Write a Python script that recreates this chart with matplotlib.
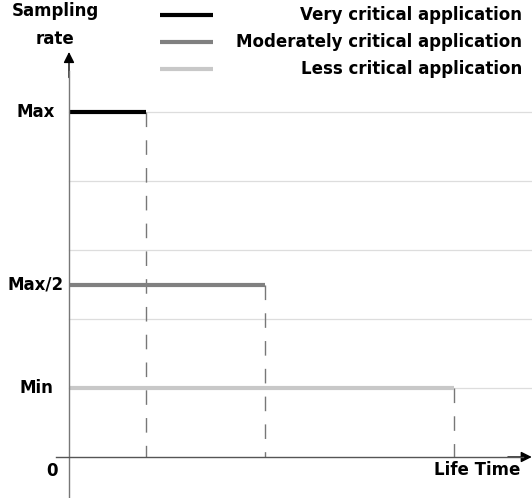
import matplotlib.pyplot as plt

# levels (Max=5, Max/2=2.5, Min=1) and durations of each application
series = ["Very critical application", "Moderately critical application", "Less critical application"]
rates = [5.0, 2.5, 1.0]
ends = [1.0, 2.55, 5.0]
colors = ["#000000", "#808080", "#c8c8c8"]
ytick_labels = ["Max", "Max/2", "Min"]
grid_levels = [1, 2, 3, 4, 5]

fig = plt.figure(figsize=(5.32, 4.98), dpi=100)
ax = fig.add_axes([0, 0, 1, 1])
ax.set_xlim(-69 / 77, 463 / 77)
ax.set_ylim(-41 / 69, 457 / 69)
ax.axis("off")

# light grid
for g in grid_levels:
    ax.plot([0, 7], [g, g], color="#dddddd", lw=0.9, zorder=1)

# steps and dashed drops
for r, e, c in zip(rates, ends, colors):
    ax.plot([0, e], [r, r], color=c, lw=3, solid_capstyle="butt", zorder=3)
    ax.plot([e, e], [r, 0], color="#777777", lw=1, dashes=(10.5, 9.5), zorder=2)

# axes with arrows
ax.plot([0, 0], [-0.6, 5.6], color="#777777", lw=1, zorder=4)
ax.plot([-0.17, 5.9], [0, 0], color="#555555", lw=1, zorder=4)
ax.annotate("", xy=(0, 5.87), xytext=(0, 5.5),
            arrowprops=dict(arrowstyle="-|>", color="black", lw=1, mutation_scale=16, shrinkA=0, shrinkB=0))
ax.annotate("", xy=(6.01, 0), xytext=(5.7, 0),
            arrowprops=dict(arrowstyle="-|>", color="black", lw=1, mutation_scale=16, shrinkA=0, shrinkB=0))

fs = 12
for lab, r in zip(ytick_labels, rates):
    ax.text(-33 / 77, r, lab, ha="center", va="center", fontsize=fs, fontweight="bold")
ax.text(-17 / 77, -14 / 69, "0", ha="center", va="center", fontsize=fs, fontweight="bold")
ax.text(451 / 77, -13 / 69, "Life Time", ha="right", va="center", fontsize=fs, fontweight="bold")
ax.text(-14 / 77, (457 - 11) / 69, "Sampling", ha="center", va="center", fontsize=fs, fontweight="bold")
ax.text(-14 / 77, (457 - 39) / 69, "rate", ha="center", va="center", fontsize=fs, fontweight="bold")

# legend drawn by hand
for i, (s, c) in enumerate(zip(series, colors)):
    yy = (457 - 15 - 27 * i) / 69
    ax.plot([91 / 77, 144 / 77], [yy, yy], color=c, lw=3, solid_capstyle="butt")
    ax.text(453 / 77, yy, s, ha="right", va="center", fontsize=fs, fontweight="bold")

fig.savefig("out.png", dpi=100)
